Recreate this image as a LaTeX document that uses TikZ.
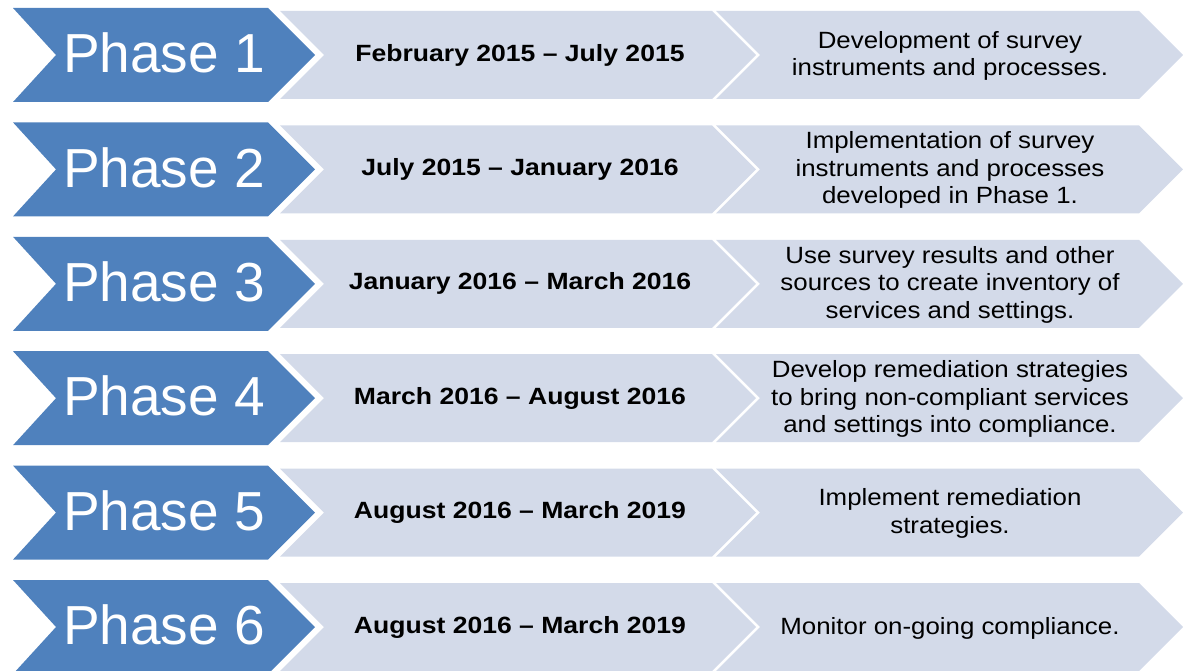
\documentclass[tikz,border=0pt]{standalone}
\usepackage{fontspec}
\setmainfont{Liberation Sans}
\newfontfamily\widefont{Liberation Sans}[FakeStretch=1.1]
\newfontfamily\datefont{Liberation Sans}[FakeStretch=1.13]
\definecolor{phaseblue}{HTML}{4F81BD}
\definecolor{lightband}{HTML}{D3DAE9}
\tikzset{
  phasetext/.style={text=white, font=\fontsize{55}{60}\selectfont, inner sep=0pt},
  datetext/.style={text=black, font=\datefont\bfseries\fontsize{23.5}{27.5}\selectfont, inner sep=0pt},
  desctext/.style={text=black, font=\widefont\fontsize{23.5}{27.5}\selectfont, align=center, inner sep=0pt},
}
\newcommand\phaserow[4]{%
  \begin{scope}[shift={(0,#1)}]
    \fill[phaseblue] (13,-47) -- (268,-47) -- (315,0) -- (268,47) -- (13,47) -- (56,0) -- cycle;
    \fill[lightband] (280,-44) -- (712,-44) -- (756,0) -- (712,44) -- (280,44) -- (324,0) -- cycle;
    \fill[lightband] (716,-44) -- (1139,-44) -- (1183,0) -- (1139,44) -- (716,44) -- (760,0) -- cycle;
    \node[phasetext] (phase#2) at (164,-2) {Phase #2};
    \node[datetext] (date#2) at (520,0) {#3};
    \node[desctext] (desc#2) at (950,1) {#4};
  \end{scope}}
\begin{document}
\begin{tikzpicture}[x=1pt,y=-1pt]
\useasboundingbox (0,0) rectangle (1183,671);
\clip (0,0) rectangle (1183,671);
\phaserow{55}{1}{February 2015 – July 2015}{Development of survey\\instruments and processes.}
\phaserow{169.4}{2}{July 2015 – January 2016}{Implementation of survey\\instruments and processes\\developed in Phase 1.}
\phaserow{283.8}{3}{January 2016 – March 2016}{Use survey results and other\\sources to create inventory of\\services and settings.}
\phaserow{398.2}{4}{March 2016 – August 2016}{Develop remediation strategies\\to bring non-compliant services\\and settings into compliance.}
\phaserow{512.6}{5}{August 2016 – March 2019}{Implement remediation\\strategies.}
\phaserow{627}{6}{August 2016 – March 2019}{Monitor on-going compliance.}
\end{tikzpicture}
\end{document}
